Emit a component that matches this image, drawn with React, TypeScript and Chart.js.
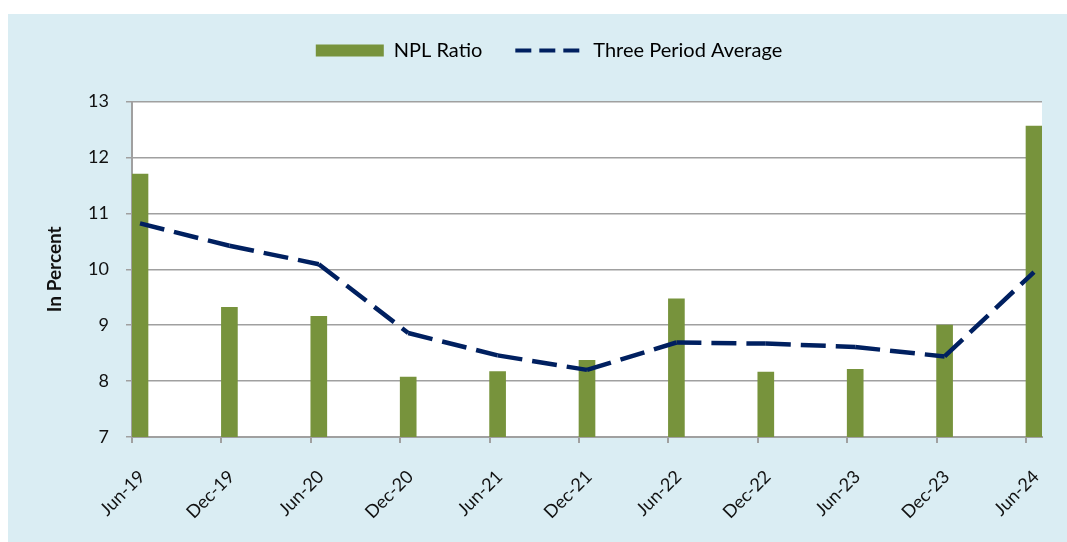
import React, { useEffect, useRef } from 'react';
import { Chart, registerables } from 'chart.js';

Chart.register(...registerables);

const categories = ['Jun-19', 'Dec-19', 'Jun-20', 'Dec-20', 'Jun-21', 'Dec-21', 'Jun-22', 'Dec-22', 'Jun-23', 'Dec-23', 'Jun-24'];
const nplRatio = [11.70, 9.32, 9.16, 8.07, 8.17, 8.37, 9.47, 8.16, 8.21, 9.00, 12.56];
const threePeriodAverage = [10.82, 10.42, 10.09, 8.86, 8.46, 8.20, 8.69, 8.67, 8.61, 8.44, 9.95];
const yMin = 7;
const yMax = 13;
const yStep = 1;

const FONT = 'Lato, "Open Sans", sans-serif';
const GREEN = '#77933C';
const NAVY = '#002060';
const GRID = '#A0A0A0';
const TEXT = '#111111';
const HALF_BAR = 0.0895; // half bar width in category units (bar starts at tick mark)
const DASH = [25, 10];

const plotBackground = {
  id: 'plotBackground',
  beforeDraw(chart: any) {
    const { ctx, chartArea } = chart;
    ctx.save();
    ctx.fillStyle = '#FFFFFF';
    ctx.fillRect(chartArea.left, chartArea.top, chartArea.right - chartArea.left, chartArea.bottom - chartArea.top);
    ctx.restore();
  },
};

export default function App() {
  const canvasRef = useRef<HTMLCanvasElement | null>(null);

  useEffect(() => {
    if (!canvasRef.current) return;
    const chart = new Chart(canvasRef.current, {
      type: 'bar',
      data: {
        datasets: [
          {
            type: 'line',
            label: 'Three Period Average',
            data: threePeriodAverage.map((y, i) => ({ x: i, y })),
            xAxisID: 'x',
            yAxisID: 'y',
            borderColor: NAVY,
            backgroundColor: NAVY,
            borderWidth: 4.5,
            borderDash: DASH,
            borderCapStyle: 'butt',
            borderJoinStyle: 'round',
            pointRadius: 0,
            tension: 0,
            fill: false,
            order: 0,
            segment: {
              borderDashOffset: (ctx: any) => (ctx.p0DataIndex % 2) * (DASH[0] + DASH[1]),
            },
          } as any,
          {
            type: 'bar',
            label: 'NPL Ratio',
            data: nplRatio.map((y, i) => ({ x: i, y })),
            xAxisID: 'x',
            yAxisID: 'y',
            backgroundColor: GREEN,
            borderWidth: 0,
            barThickness: 16,
            order: 1,
          } as any,
        ],
      },
      options: {
        animation: false,
        responsive: true,
        maintainAspectRatio: false,
        layout: { padding: { left: 48, right: 25, top: -6.5, bottom: 0 } },
        plugins: {
          tooltip: { enabled: false },
          legend: {
            display: true,
            position: 'top',
            align: 'center',
            labels: {
              usePointStyle: true,
              pointStyleWidth: 68,
              boxWidth: 68,
              boxHeight: 12,
              padding: 33,
              color: TEXT,
              font: { family: FONT, size: 20 },
              generateLabels: () => [
                {
                  text: 'NPL Ratio',
                  fillStyle: GREEN,
                  strokeStyle: GREEN,
                  lineWidth: 0,
                  pointStyle: 'rect',
                  hidden: false,
                  datasetIndex: 1,
                } as any,
                {
                  text: 'Three Period Average',
                  fillStyle: 'rgba(0,0,0,0)',
                  strokeStyle: NAVY,
                  lineWidth: 4,
                  lineDash: [16, 8],
                  pointStyle: 'line',
                  hidden: false,
                  datasetIndex: 0,
                } as any,
              ],
            },
          },
        },
        scales: {
          x: {
            type: 'linear',
            position: 'bottom',
            min: -HALF_BAR,
            max: categories.length - 1 + HALF_BAR,
            offset: false,
            afterBuildTicks: (scale: any) => {
              scale.ticks = categories.map((_, i) => ({ value: i - HALF_BAR }));
            },
            afterFit: (scale: any) => {
              scale.height = 105;
            },
            ticks: {
              autoSkip: false,
              minRotation: 45,
              maxRotation: 45,
              padding: 23,
              labelOffset: 10,
              color: TEXT,
              font: { family: FONT, size: 18 },
              callback: (_v: any, i: number) => categories[i],
            },
            grid: {
              display: true,
              drawOnChartArea: false,
              drawTicks: true,
              tickLength: 6,
              color: GRID,
              lineWidth: 2,
              offset: false,
            },
            border: { display: true, color: GRID, width: 2 },
          },
          xTop: {
            type: 'linear',
            position: 'top',
            display: true,
            grid: { display: false, drawTicks: false },
            border: { display: false },
            ticks: { display: false },
            afterFit: (scale: any) => {
              scale.height = 31;
            },
          },
          y: {
            type: 'linear',
            position: 'left',
            min: yMin,
            max: yMax,
            afterFit: (scale: any) => {
              scale.width = 76;
            },
            ticks: {
              stepSize: yStep,
              padding: 17,
              color: TEXT,
              font: { family: FONT, size: 18 },
            },
            grid: {
              color: GRID,
              lineWidth: 1.5,
              drawTicks: true,
              tickLength: 6,
            },
            border: { display: true, color: GRID, width: 2 },
            title: {
              display: true,
              text: 'In Percent',
              color: TEXT,
              font: { family: FONT, size: 19, weight: 'bold' },
              padding: { top: -12.9, bottom: 0 },
            },
          },
        },
      } as any,
      plugins: [plotBackground],
    });
    return () => chart.destroy();
  }, []);

  return (
    <div
      style={{
        position: 'fixed',
        left: 8,
        top: 14,
        right: 0,
        bottom: 0,
        background: '#DAEDF3',
      }}
    >
      <canvas ref={canvasRef} />
    </div>
  );
}
